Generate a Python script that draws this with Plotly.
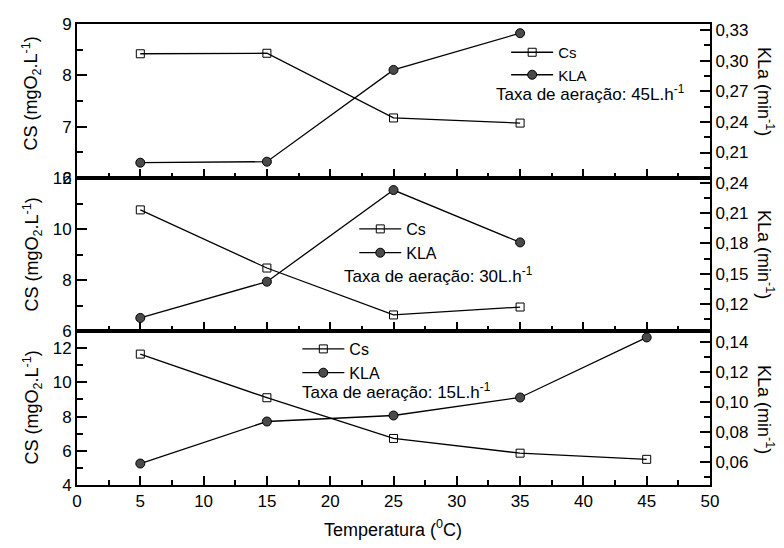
import plotly.graph_objects as go

# ---- data ----
temp_45 = [5, 15, 25, 35]
cs_45 = [8.42, 8.43, 7.17, 7.07]
kla_45 = [0.200, 0.201, 0.291, 0.327]

temp_30 = [5, 15, 25, 35]
cs_30 = [10.75, 8.47, 6.63, 6.94]
kla_30 = [0.106, 0.142, 0.233, 0.181]

temp_15 = [5, 15, 25, 35, 45]
cs_15 = [11.65, 9.1, 6.72, 5.86, 5.5]
kla_15 = [0.059, 0.087, 0.091, 0.103, 0.143]

x_ticks = [0, 5, 10, 15, 20, 25, 30, 35, 40, 45, 50]
kla_ticks_45 = [0.21, 0.24, 0.27, 0.30, 0.33]
kla_ticks_30 = [0.12, 0.15, 0.18, 0.21, 0.24]
kla_ticks_15 = [0.06, 0.08, 0.10, 0.12, 0.14]
labels_taxa = ["Taxa de aeração: 45L.h<sup>-1</sup>",
               "Taxa de aeração: 30L.h<sup>-1</sup>",
               "Taxa de aeração: 15L.h<sup>-1</sup>"]

FONT = "Arial, Liberation Sans, sans-serif"
W, H = 784, 548
ML, MR, MT, MB = 76.5, 74, 24, 63
PW = W - ML - MR
PH = H - MT - MB

def px2x(px):
    return (px - ML) / PW

def py2y(py):
    return (H - MB - py) / PH

d1 = [py2y(178), 1.0]
d2 = [py2y(331), py2y(178)]
d3 = [0.0, py2y(331)]

fig = go.Figure()

line = dict(color="black", width=1.3)
sq = dict(symbol="square-open", size=8, color="black", line=dict(width=1))
ci = dict(symbol="circle", size=9, color="#4a4a4a", line=dict(color="black", width=1))

panels = [
    (temp_45, cs_45, kla_45, "x3", "y5", "y6", "legend"),
    (temp_30, cs_30, kla_30, "x2", "y3", "y4", "legend2"),
    (temp_15, cs_15, kla_15, "x", "y", "y2", "legend3"),
]
for t, cs, kla, xa, yl, yr, lg in panels:
    fig.add_trace(go.Scatter(x=t, y=cs, mode="lines+markers", name="Cs", line=line,
                             marker=sq, xaxis=xa, yaxis=yl, legend=lg))
    fig.add_trace(go.Scatter(x=t, y=kla, mode="lines+markers", name="KLA", line=line,
                             marker=ci, xaxis=xa, yaxis=yr, legend=lg))

tickfont = dict(family=FONT, size=17, color="black")
xcommon = dict(range=[0, 50], tickvals=x_ticks, ticks="inside", ticklen=9, tickwidth=1.8,
               showline=True, linecolor="black", linewidth=2, mirror=True,
               showgrid=False, zeroline=False,
               minor=dict(dtick=2.5, tick0=0, ticks="inside", ticklen=5, tickwidth=1.5, tickcolor="black"),
               tickcolor="black", tickfont=tickfont, fixedrange=True)
ycommon_l = dict(ticks="inside", ticklen=10, tickwidth=1.8, tickcolor="black", showline=True,
                 linecolor="black", linewidth=2, showgrid=False, zeroline=False,
                 tickfont=tickfont, side="left")
ycommon_r = dict(ticks="inside", ticklen=10, tickwidth=1.8, tickcolor="black", showline=True,
                 linecolor="black", linewidth=2, showgrid=False, zeroline=False,
                 tickfont=tickfont, side="right")
yminor = dict(ticks="inside", ticklen=6, tickwidth=1.5, tickcolor="black")

def fmt(v):
    return f"{v:.2f}".replace(".", ",")

fig.update_layout(
    width=W, height=H,
    margin=dict(l=ML, r=MR, t=MT, b=MB),
    plot_bgcolor="white", paper_bgcolor="white",
    font=dict(family=FONT, size=16, color="black"),
    xaxis=dict(xcommon, domain=[0, 1], anchor="y", showticklabels=True),
    xaxis2=dict(xcommon, domain=[0, 1], anchor="y3", showticklabels=False, matches="x"),
    xaxis3=dict(xcommon, domain=[0, 1], anchor="y5", showticklabels=False, matches="x"),
    yaxis=dict(ycommon_l, domain=d3, anchor="x", range=[4, 13], dtick=2, tick0=0,
               minor=dict(yminor, dtick=1)),
    yaxis2=dict(ycommon_r, domain=d3, anchor="x", overlaying="y", range=[0.0447, 0.1473],
                tickvals=kla_ticks_15, ticktext=[fmt(v) for v in kla_ticks_15],
                minor=dict(yminor, dtick=0.01, tick0=0)),
    yaxis3=dict(ycommon_l, domain=d2, anchor="x2", range=[6, 12], dtick=2, tick0=0,
                minor=dict(yminor, dtick=1)),
    yaxis4=dict(ycommon_r, domain=d2, anchor="x2", overlaying="y3", range=[0.093, 0.245],
                tickvals=kla_ticks_30, ticktext=[fmt(v) for v in kla_ticks_30],
                minor=dict(yminor, dtick=0.015, tick0=0)),
    yaxis5=dict(ycommon_l, domain=d1, anchor="x3", range=[6, 9], dtick=1, tick0=0,
                minor=dict(yminor, dtick=0.5)),
    yaxis6=dict(ycommon_r, domain=d1, anchor="x3", overlaying="y5", range=[0.185, 0.336],
                tickvals=kla_ticks_45, ticktext=[fmt(v) for v in kla_ticks_45],
                minor=dict(yminor, dtick=0.015, tick0=0)),
    showlegend=True,
)

legfont = dict(family=FONT, size=16, color="black")
for name, (lx, ly, fs) in zip(["legend", "legend2", "legend3"],
                              [(506, 36, 15), (354, 212, 16), (297, 332, 16)]):
    fig.update_layout({name: dict(x=px2x(lx), y=py2y(ly), xanchor="left", yanchor="top",
                                  xref="paper", yref="paper", bgcolor="rgba(0,0,0,0)",
                                  font=dict(legfont, size=fs), tracegroupgap=0, itemwidth=42)})

annots = []
for txt, (ax, ay) in zip(labels_taxa, [(494, 93), (342, 275), (300, 391)]):
    annots.append(dict(text=txt, x=px2x(ax), y=py2y(ay), xref="paper", yref="paper",
                       xanchor="left", yanchor="middle", showarrow=False,
                       font=dict(family=FONT, size=17, color="black")))

for cy in [94, 255, 408]:
    annots.append(dict(text="CS (mgO<sub>2</sub>.L<sup>-1</sup>)", x=px2x(31), y=py2y(cy),
                       xref="paper", yref="paper", textangle=-90, showarrow=False,
                       xanchor="center", yanchor="middle",
                       font=dict(family=FONT, size=18, color="black")))
for cy in [92, 255, 410]:
    annots.append(dict(text="KLa (min<sup>-1</sup>)", x=px2x(766), y=py2y(cy),
                       xref="paper", yref="paper", textangle=90, showarrow=False,
                       xanchor="center", yanchor="middle",
                       font=dict(family=FONT, size=18, color="black")))

annots.append(dict(text="Temperatura (<sup>0</sup>C)", x=px2x(393), y=py2y(528),
                   xref="paper", yref="paper", showarrow=False, xanchor="center",
                   yanchor="middle", font=dict(family=FONT, size=18, color="black")))
fig.update_layout(annotations=annots)

fig.write_html("out.html")
